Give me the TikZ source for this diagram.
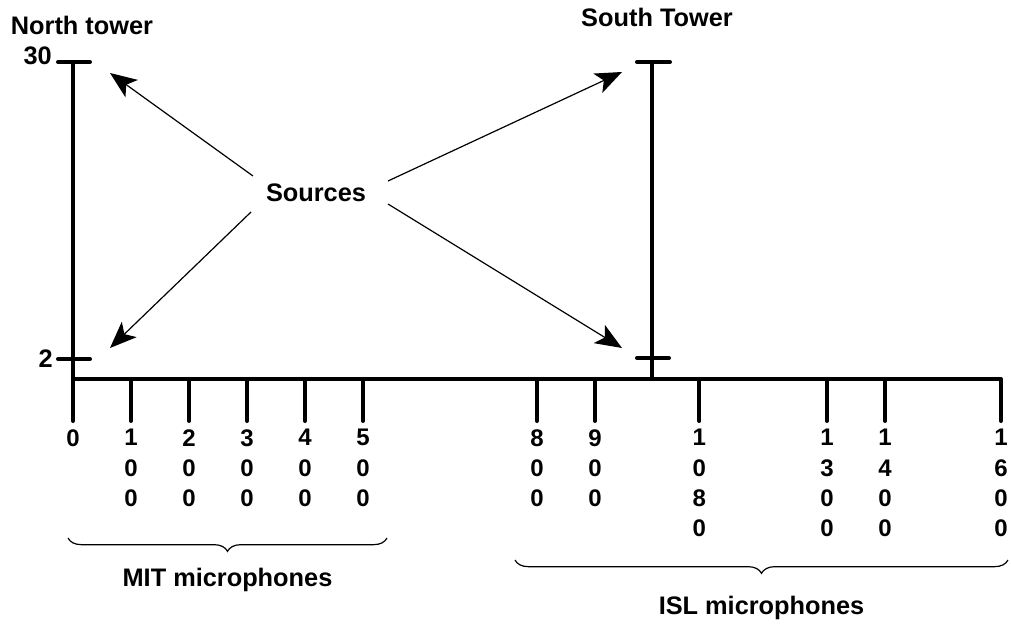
\documentclass[tikz,border=0pt]{standalone}
\usepackage{fontspec}
\setmainfont{Liberation Sans}
\usetikzlibrary{arrows.meta, positioning, decorations.pathreplacing}
\tikzset{
  axisline/.style={line width=3pt,line cap=round},
  ticklbl/.style={font=\fontsize{18}{22.8}\selectfont\bfseries,align=center,anchor=north,inner sep=0pt},
  titlelbl/.style={font=\fontsize{19}{22}\selectfont\bfseries,inner sep=0pt},
  srcarr/.style={-{Stealth[length=20pt,width=16pt,inset=5pt]},line width=0.9pt},
  micbrace/.style={decorate,decoration={brace,mirror,amplitude=10pt},line width=0.9pt}
}

\begin{document}
\begin{tikzpicture}[x=0.75pt,y=-0.75pt]
  \useasboundingbox (0,0) rectangle (1011,625);

  % towers
  \coordinate (nbase) at (73,379);
  \coordinate (ntop) at (73,62);
  \coordinate (sbase) at (652,379);
  \coordinate (stop) at (652,62);
  \draw[axisline] (ntop) -- (nbase);
  \draw[axisline] (58,62) -- (90,62);
  \draw[axisline] (58,359) -- (90,359);
  \draw[axisline] (stop) -- (sbase);
  \draw[axisline] (637,62) -- (670,62);
  \draw[axisline] (637,358) -- (669,358);
  \node[titlelbl,anchor=east] (h30) at (52,56) {30};
  \node[titlelbl,anchor=east] (h2) at (53,359) {2};
  \node[titlelbl] (north) at (82,25) {North tower};
  \node[titlelbl] (south) at (657,17) {South Tower};

  % ground line with microphone positions
  \draw[axisline] (73,379) -- (1000,379);
  \foreach \d/\lbl in {0/0, 100/1\\0\\0, 200/2\\0\\0, 300/3\\0\\0, 400/4\\0\\0, 500/5\\0\\0,
                      800/8\\0\\0, 900/9\\0\\0, 1080/1\\0\\8\\0, 1300/1\\3\\0\\0,
                      1400/1\\4\\0\\0, 1600/1\\6\\0\\0}{
    \draw[axisline] ({73+0.58*\d},379) -- ({73+0.58*\d},421);
    \node[ticklbl] (m\d) at ({73+0.58*\d},429) {\lbl};
  }

  % sources
  \node[titlelbl] (src) at (316,193) {Sources};
  \coordinate (ntip) at (110,73);
  \coordinate (nlow) at (110,348);
  \coordinate (stip) at (622,72);
  \coordinate (slow) at (622,348);
  \draw[srcarr] (253,176) -- (ntip);
  \draw[srcarr] (251,212) -- (nlow);
  \draw[srcarr] (388,181) -- (stip);
  \draw[srcarr] (388,204) -- (slow);

  % groups
  \draw[micbrace] (68,538) -- (387,538) node[midway,below=22pt,titlelbl] (mit) {MIT microphones};
  \draw[micbrace] (515,560) -- (1008,560) node[midway,below=27pt,titlelbl] (isl) {ISL microphones};
\end{tikzpicture}
\end{document}
